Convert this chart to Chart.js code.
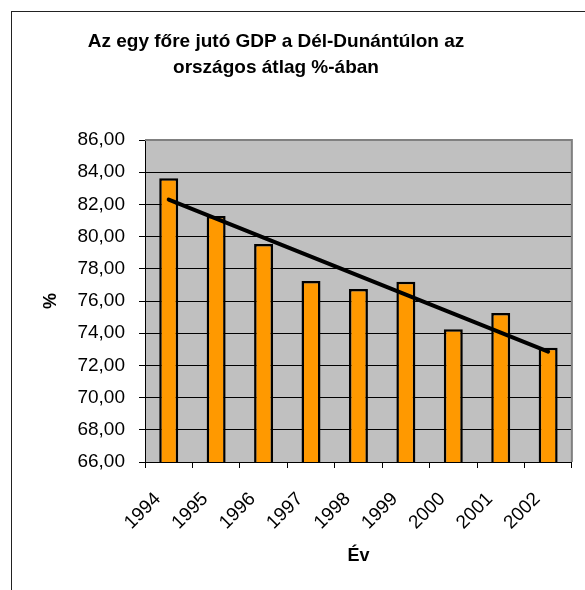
<!DOCTYPE html>
<html lang="hu">
<head>
<meta charset="utf-8">
<title>GDP Dél-Dunántúl</title>
<script src="https://cdn.jsdelivr.net/npm/chart.js@4"></script>
<style>
  html, body { margin: 0; padding: 0; background: #fff; overflow: hidden; }
  #wrap { position: relative; width: 585px; height: 590px; }
  #frame {
    position: absolute; left: 11px; top: 11px; width: 620px; height: 620px;
    border-left: 1px solid #222; border-top: 1px solid #222;
  }
  #title {
    position: absolute; left: 0; top: 28px; width: 552px;
    text-align: center; color: #000;
    font: bold 19px/26px "Liberation Sans", Arial, sans-serif;
  }
  #chart { position: absolute; left: 0; top: 0; }
</style>
</head>
<body>
<div id="wrap">
  <div id="frame"></div>
  <canvas id="chart" width="585" height="590"></canvas>
  <div id="title">Az egy főre jutó GDP a Dél-Dunántúlon az<br>országos átlag %-ában</div>
</div>
<script>
const years = ["1994", "1995", "1996", "1997", "1998", "1999", "2000", "2001", "2002"];
const gdpShare = [83.62, 81.28, 79.54, 77.24, 76.75, 77.2, 74.24, 75.25, 73.1];
const yMin = 66;
const yMax = 86;
const yStep = 2;

// lineáris trendvonal (mint az Excelben), a mért értékekből
function linearTrend(values) {
  const n = values.length;
  const meanX = (n - 1) / 2;
  const meanY = values.reduce((a, b) => a + b, 0) / n;
  let num = 0, den = 0;
  values.forEach((v, i) => {
    num += (i - meanX) * (v - meanY);
    den += (i - meanX) * (i - meanX);
  });
  const slope = num / den;
  return values.map((v, i) => meanY + slope * (i - meanX));
}

const fontFamily = "'Liberation Sans', Arial, sans-serif";

const plotBackground = {
  id: "plotBackground",
  beforeDraw(chart) {
    const { ctx, chartArea: a } = chart;
    ctx.save();
    ctx.fillStyle = "#c0c0c0";
    ctx.fillRect(a.left, a.top, a.right - a.left, a.bottom - a.top);
    ctx.restore();
  },
  beforeDatasetsDraw(chart) {
    const { ctx, chartArea: a } = chart;
    ctx.save();
    ctx.strokeStyle = "#808080";
    ctx.lineWidth = 2;
    ctx.beginPath();
    ctx.moveTo(a.left, a.top);
    ctx.lineTo(a.right, a.top);
    ctx.lineTo(a.right, a.bottom);
    ctx.stroke();
    ctx.restore();
  },
};

const ctx = document.getElementById("chart").getContext("2d");

new Chart(ctx, {
  data: {
    labels: years,
    datasets: [
      {
        type: "line",
        label: "Lineáris trend",
        data: linearTrend(gdpShare),
        borderColor: "#000",
        borderWidth: 4,
        borderCapStyle: "round",
        pointRadius: 0,
        fill: false,
        order: 0,
      },
      {
        type: "bar",
        label: "Egy főre jutó GDP (%)",
        data: gdpShare,
        backgroundColor: "#ff9900",
        borderColor: "#000",
        borderWidth: 2.5,
        barPercentage: 0.4,
        categoryPercentage: 1,
        order: 1,
      },
    ],
  },
  options: {
    responsive: false,
    animation: false,
    layout: { padding: { left: 12, right: 13, top: 140, bottom: 0 } },
    plugins: {
      legend: { display: false },
      tooltip: { enabled: false },
      title: { display: false },
    },
    scales: {
      x: {
        type: "category",
        offset: true,
        grid: {
          offset: true,
          drawOnChartArea: false,
          color: "#000",
          tickLength: 6,
        },
        border: { display: true, color: "#000", width: 1 },
        ticks: {
          color: "#000",
          font: { family: fontFamily, size: 19 },
          minRotation: 45,
          maxRotation: 45,
          padding: 20,
          labelOffset: -11,
        },
        title: {
          display: true,
          text: "Év",
          color: "#000",
          font: { family: fontFamily, size: 18, weight: "bold" },
          padding: { top: 0, bottom: 23 },
        },
        afterFit(scale) {
          scale.height = 128;
        },
      },
      y: {
        min: yMin,
        max: yMax,
        grid: {
          color: (c) => (c.tick && c.tick.value === yMax ? "#808080" : "#000"),
          tickColor: "#000",
          tickLength: 6,
        },
        border: { display: true, color: "#000", width: 1 },
        ticks: {
          stepSize: yStep,
          color: "#000",
          font: { family: fontFamily, size: 19 },
          padding: 14,
          callback: (v) => v.toFixed(2).replace(".", ","),
        },
        title: {
          display: true,
          text: "%",
          color: "#000",
          font: { family: fontFamily, size: 18, weight: "bold" },
          padding: { top: 28, bottom: 0 },
        },
        afterFit(scale) {
          scale.width = 133;
        },
      },
    },
  },
  plugins: [plotBackground],
});
</script>
</body>
</html>
